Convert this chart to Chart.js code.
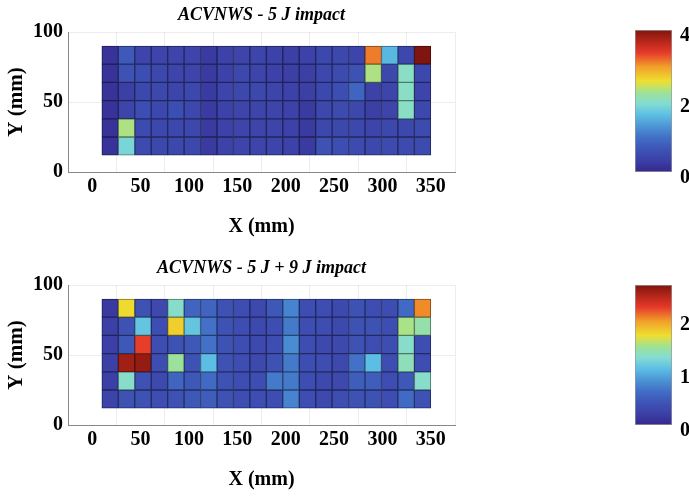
<!DOCTYPE html>
<html>
<head>
<meta charset="utf-8">
<script src="https://cdn.jsdelivr.net/npm/chart.js@4.4.0/dist/chart.umd.min.js"></script>
<style>
  body { margin: 0; background: #fff; }
  #wrap { position: relative; width: 689px; height: 496px; overflow: hidden; }
  canvas { position: absolute; }
</style>
</head>
<body>
<div id="wrap">
  <canvas id="heatTop" width="524" height="243" style="left:0;top:0"></canvas>
  <canvas id="barTop" width="89" height="243" style="left:600px;top:0"></canvas>
  <canvas id="heatBottom" width="524" height="243" style="left:0;top:253px"></canvas>
  <canvas id="barBottom" width="89" height="243" style="left:600px;top:253px"></canvas>
</div>
<script>
// grid cell centres along X (mm) and the Y bands of each row (mm), top row first
const xMm = [18.5, 35.5, 52.5, 69.5, 86.5, 103.5, 120.5, 137.5, 154.5, 171.5,
             188.5, 205.5, 222.5, 239.5, 256.5, 273.5, 290.5, 307.5, 324.5, 341.5];
const yBands = [[77, 90], [64, 77], [51, 64], [38, 51], [25, 38], [12, 25]];

// 5 J impact, rows top -> bottom
const impact5 = [
  [0.15, 0.7, 0.4, 0.4, 0.4, 0.4, 0.25, 0.35, 0.4, 0.4, 0.35, 0.3, 0.35, 0.45, 0.45, 0.4, 3.1, 1.55, 0.45, 4.0],
  [0.15, 0.6, 0.55, 0.45, 0.4, 0.4, 0.25, 0.35, 0.45, 0.4, 0.35, 0.3, 0.3, 0.45, 0.5, 0.6, 2.3, 0.45, 2.0, 0.45],
  [0.15, 0.3, 0.45, 0.45, 0.4, 0.45, 0.25, 0.4, 0.45, 0.45, 0.4, 0.35, 0.3, 0.45, 0.55, 0.85, 0.35, 0.4, 2.0, 0.4],
  [0.15, 0.4, 0.55, 0.45, 0.55, 0.45, 0.25, 0.35, 0.4, 0.4, 0.4, 0.35, 0.25, 0.45, 0.5, 0.45, 0.3, 0.4, 2.0, 0.45],
  [0.15, 2.3, 0.5, 0.45, 0.45, 0.45, 0.25, 0.35, 0.4, 0.4, 0.4, 0.35, 0.25, 0.45, 0.45, 0.45, 0.4, 0.45, 0.45, 0.5],
  [0.15, 1.85, 0.5, 0.45, 0.45, 0.45, 0.25, 0.35, 0.4, 0.4, 0.4, 0.35, 0.25, 0.6, 0.55, 0.5, 0.45, 0.5, 0.5, 0.5]
];

// 5 J + 9 J impact, rows top -> bottom
const impact59 = [
  [0.15, 1.7, 0.4, 0.3, 1.3, 0.55, 0.55, 0.4, 0.35, 0.3, 0.45, 0.75, 0.35, 0.35, 0.3, 0.4, 0.35, 0.35, 0.6, 2.0],
  [0.2, 0.4, 1.1, 0.35, 1.75, 1.1, 0.65, 0.4, 0.35, 0.3, 0.35, 0.7, 0.35, 0.35, 0.3, 0.4, 0.4, 0.35, 1.5, 1.4],
  [0.2, 0.45, 2.2, 0.35, 0.4, 0.45, 0.65, 0.4, 0.35, 0.3, 0.35, 0.8, 0.35, 0.3, 0.3, 0.4, 0.35, 0.35, 1.3, 0.35],
  [0.2, 2.5, 2.55, 0.35, 1.45, 0.4, 1.05, 0.4, 0.35, 0.3, 0.4, 0.7, 0.35, 0.35, 0.3, 0.65, 1.05, 0.35, 1.35, 0.35],
  [0.2, 1.3, 0.4, 0.3, 0.55, 0.45, 0.6, 0.4, 0.35, 0.35, 0.7, 0.7, 0.35, 0.3, 0.3, 0.5, 0.5, 0.35, 0.45, 1.3],
  [0.25, 0.4, 0.4, 0.35, 0.4, 0.45, 0.5, 0.4, 0.35, 0.35, 0.35, 0.75, 0.35, 0.3, 0.35, 0.4, 0.4, 0.35, 0.6, 0.4]
];

const xTicks = [0, 50, 100, 150, 200, 250, 300, 350];
const yTicks = [0, 50, 100];
const barTicksTop = [0, 2, 4];
const barTicksBottom = [0, 1, 2];

// jet-ish colormap
const stops = [
  [0.00, [53, 40, 140]], [0.08, [60, 64, 166]], [0.16, [62, 84, 182]],
  [0.24, [65, 110, 198]], [0.32, [76, 148, 212]], [0.40, [92, 190, 228]],
  [0.48, [130, 220, 212]], [0.56, [159, 226, 148]], [0.64, [238, 223, 48]],
  [0.74, [242, 160, 42]], [0.84, [230, 58, 42]], [0.93, [176, 36, 24]],
  [1.00, [126, 21, 16]]
];

function cmapRgb(t) {
  t = Math.max(0, Math.min(1, t));
  for (let i = 1; i < stops.length; i++) {
    if (t <= stops[i][0]) {
      const a = stops[i - 1], b = stops[i];
      const f = (t - a[0]) / (b[0] - a[0]);
      return a[1].map((c, k) => Math.round(c + (b[1][k] - c) * f));
    }
  }
  return stops[stops.length - 1][1];
}
const cmap = t => 'rgb(' + cmapRgb(t).join(',') + ')';
const cmapDark = t => 'rgb(' + cmapRgb(t).map(c => Math.round(c * 0.55)).join(',') + ')';

Chart.defaults.color = '#000';
Chart.defaults.animation = false;
Chart.defaults.devicePixelRatio = 1;

const serif = '"Liberation Serif", "Times New Roman", serif';
const boldFont = { family: serif, size: 20, weight: 'bold' };

function heatmap(id, title, values, vmax) {
  const datasets = yBands.map((band, r) => ({
    data: xMm.map(x => ({ x: x, y: band })),
    backgroundColor: values[r].map(v => cmap(v / vmax)),
    borderColor: values[r].map(v => cmapDark(v / vmax)),
    borderWidth: 1,
    borderSkipped: false,
    grouped: false,
    barPercentage: 1,
    categoryPercentage: 1
  }));
  return new Chart(document.getElementById(id), {
    type: 'bar',
    data: { datasets: datasets },
    options: {
      responsive: false,
      layout: { padding: { left: 0, right: 69, top: 0, bottom: 0 } },
      scales: {
        x: {
          type: 'linear', min: 0, max: 350,
          afterFit: s => { s.height = 71; },
          afterBuildTicks: s => { s.ticks = xTicks.map(v => ({ value: v })); },
          ticks: { font: boldFont, padding: 3, maxRotation: 0 },
          grid: { color: 'rgba(0,0,0,0.07)', drawTicks: false },
          border: { color: '#888' },
          title: {
            display: true, text: 'X (mm)',
            font: { family: serif, size: 20, weight: 'bold' },
            padding: { top: 0, bottom: 4 }
          }
        },
        // top axis only carries the chart title, centred over the plot
        xTitle: {
          type: 'linear', position: 'top', min: 0, max: 350,
          afterFit: s => { s.height = 32; },
          ticks: { display: false },
          grid: { display: false, drawTicks: false },
          border: { display: false },
          title: {
            display: true, text: title,
            font: { family: serif, size: 18, weight: 'bold', style: 'italic' },
            padding: { top: 5, bottom: 0 }
          }
        },
        y: {
          type: 'linear', min: 0, max: 100,
          afterFit: s => { s.width = 68; },
          afterBuildTicks: s => { s.ticks = yTicks.map(v => ({ value: v })); },
          ticks: { font: boldFont, padding: 5 },
          grid: { color: 'rgba(0,0,0,0.07)', drawTicks: false },
          border: { color: '#888' },
          title: {
            display: true, text: 'Y (mm)',
            font: { family: serif, size: 21, weight: 'bold' },
            padding: { top: 4, bottom: 0 }
          }
        }
      },
      plugins: {
        legend: { display: false },
        tooltip: { enabled: false }
      }
    }
  });
}

function colorbar(id, vmax, tickVals, top) {
  return new Chart(document.getElementById(id), {
    type: 'bar',
    data: {
      labels: [''],
      datasets: [{
        data: [[0, vmax]],
        backgroundColor: ctx => {
          const area = ctx.chart.chartArea;
          if (!area) return '#3c40a6';
          const g = ctx.chart.ctx.createLinearGradient(0, area.bottom, 0, area.top);
          stops.forEach(s => g.addColorStop(s[0], 'rgb(' + s[1].join(',') + ')'));
          return g;
        },
        borderColor: '#999',
        borderWidth: 1,
        borderSkipped: false,
        barPercentage: 1,
        categoryPercentage: 1
      }]
    },
    options: {
      responsive: false,
      layout: { padding: { left: 35, right: 0, top: top, bottom: 71 } },
      scales: {
        x: { display: false },
        y: {
          position: 'right', min: 0, max: vmax,
          afterFit: s => { s.width = 17; },
          afterBuildTicks: s => { s.ticks = tickVals.map(v => ({ value: v })); },
          ticks: { font: boldFont, padding: 8, labelOffset: 6 },
          grid: { display: false, drawTicks: false },
          border: { display: false }
        }
      },
      plugins: { legend: { display: false }, tooltip: { enabled: false } }
    }
  });
}

heatmap('heatTop', 'ACVNWS - 5 J impact', impact5, 4);
colorbar('barTop', 4, barTicksTop, 30);
heatmap('heatBottom', 'ACVNWS - 5 J + 9 J impact', impact59, 2.63);
colorbar('barBottom', 2.63, barTicksBottom, 32);
</script>
</body>
</html>
